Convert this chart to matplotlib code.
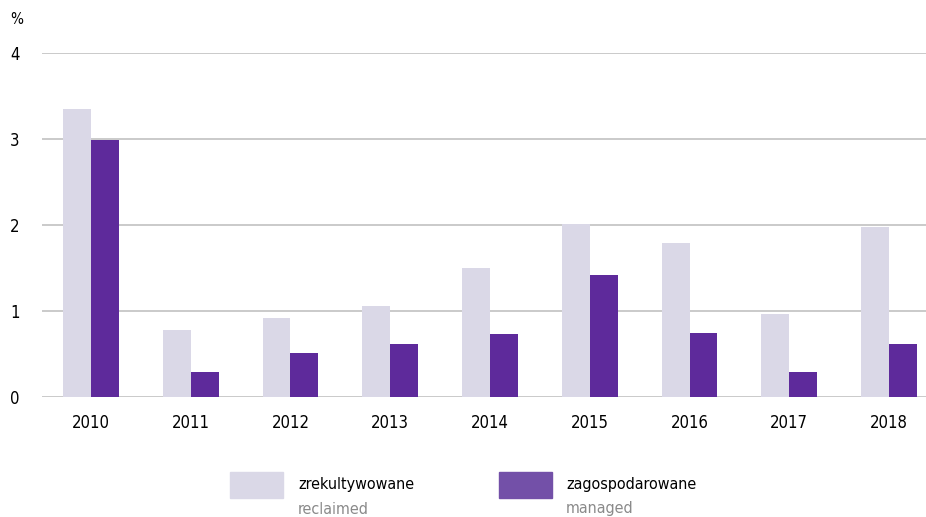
import matplotlib.pyplot as plt
import matplotlib.patches as mpatches
import numpy as np

plt.rcParams['font.family'] = ['DejaVu Sans']
plt.rcParams['font.stretch'] = 'condensed'

years = ["2010", "2011", "2012", "2013", "2014", "2015", "2016", "2017", "2018"]
reclaimed = [3.35, 0.78, 0.92, 1.06, 1.50, 2.01, 1.79, 0.97, 1.98]
managed = [2.99, 0.29, 0.51, 0.62, 0.73, 1.42, 0.74, 0.29, 0.62]

light = "#dad8e7"
dark = "#5e2a9b"
dark_legend = "#7350a8"

fig = plt.figure(figsize=(9.26, 5.17), dpi=100)
ax = fig.add_axes([42/926, 120/517, 884/926, 344/517])

x = np.arange(len(years))
w = 0.28
ax.bar(x - w/2, reclaimed, w, color=light, zorder=3)
ax.bar(x + w/2, managed, w, color=dark, zorder=3)

ax.set_xlim(-0.49, 8.37)
ax.set_ylim(0, 4)
ax.set_yticks([0, 1, 2, 3, 4])
ax.yaxis.grid(True, color="#c6c6c6", linewidth=1.3, zorder=0)
ax.set_axisbelow(True)
for s in ax.spines.values():
    s.set_visible(False)
ax.tick_params(axis="both", length=0, labelsize=12)
ax.tick_params(axis="y", pad=16)
ax.tick_params(axis="x", pad=12)
ax.set_xticks(x)
ax.set_xticklabels(years)

fig.text(10/926, 1 - 20/517, "%", fontsize=11, va="center", ha="left")

# legend
fig.patches.append(mpatches.Rectangle((230/926, 1 - 498/517), 53/926, 26/517,
                                      transform=fig.transFigure, color=light))
fig.patches.append(mpatches.Rectangle((499/926, 1 - 498/517), 53/926, 26/517,
                                      transform=fig.transFigure, color=dark_legend))
fig.text(298/926, 1 - 485/517, "zrekultywowane", fontsize=11.5, va="center")
fig.text(298/926, 1 - 509/517, "reclaimed", fontsize=11.5, va="center", color="#8a8a8a")
fig.text(566/926, 1 - 485/517, "zagospodarowane", fontsize=11.5, va="center")
fig.text(566/926, 1 - 509/517, "managed", fontsize=11.5, va="center", color="#8a8a8a")

fig.savefig("out.png", dpi=100)
